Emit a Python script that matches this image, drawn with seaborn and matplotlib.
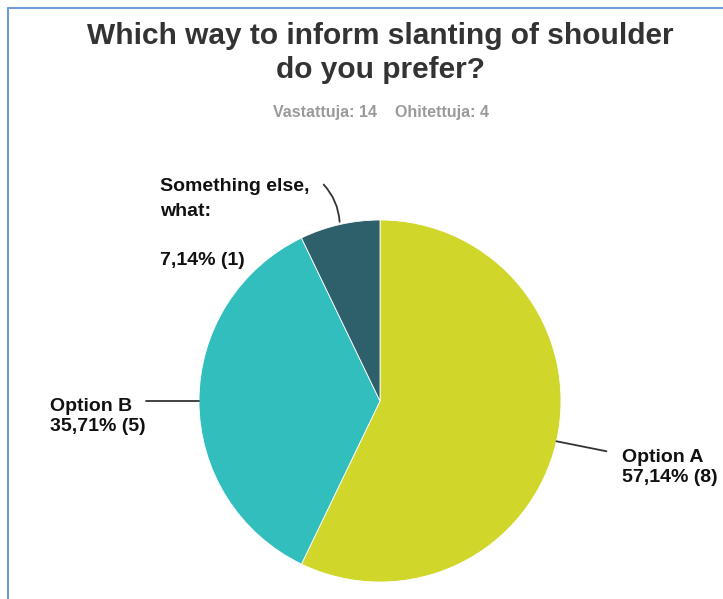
import numpy as np
import matplotlib
matplotlib.use("Agg")
import matplotlib.pyplot as plt
from matplotlib.lines import Line2D
import seaborn as sns

categories = ["Option A", "Option B", "Something else,\nwhat:"]
counts = [8, 5, 1]
percent_labels = ["57,14% (8)", "35,71% (5)", "7,14% (1)"]
colors = ["#D0D62A", "#33BEBE", "#2E606C"]
title = "Which way to inform slanting of shoulder\ndo you prefer?"
subtitle = "Vastattuja: 14    Ohitettuja: 4"

sns.set_theme(style="white")
plt.rcParams['font.family'] = ['Liberation Sans', 'DejaVu Sans']

W, H = 723, 599
fig = plt.figure(figsize=(W / 100, H / 100), dpi=100)
ax = fig.add_axes([0, 0, 1, 1])

cx, cy, r = 380, H - 401, 181
wedges, _ = ax.pie(counts, colors=colors, startangle=90, counterclock=False,
                   center=(cx, cy), radius=r, frame=True,
                   wedgeprops=dict(edgecolor='white', linewidth=0.6))
ax.set_xlim(0, W)
ax.set_ylim(0, H)
ax.set_aspect('equal')
ax.axis('off')

lab_font = dict(fontsize=14, fontweight='bold', color='#111111')

def edge_point(w):
    ang = np.deg2rad((w.theta1 + w.theta2) / 2)
    return cx + r * np.cos(ang), cy + r * np.sin(ang)

# Option A
x0, y0 = edge_point(wedges[0])
ax.plot([x0, x0 + 50], [y0, y0 - 10], color='#333333', lw=1.3)
ax.text(622, H - 449, categories[0] + "\n" + percent_labels[0], ha='left', va='top',
        linespacing=1.25, **lab_font)
# Option B
x1, y1 = edge_point(wedges[1])
ax.plot([x1, x1 - 53], [y1, y1], color='#333333', lw=1.3)
ax.text(50, H - 398, categories[1] + "\n" + percent_labels[1], ha='left', va='top',
        linespacing=1.25, **lab_font)
# Something else
x2, y2 = edge_point(wedges[2])
ax.annotate("", xy=(x2, y2), xytext=(x2 - 18, y2 + 42),
            arrowprops=dict(arrowstyle='-', color='#333333', lw=1.3,
                            connectionstyle='arc3,rad=-0.2'))
ax.text(160, H - 178, categories[2] + "\n\n" + percent_labels[2], ha='left', va='top',
        linespacing=1.6, **lab_font)

fig.text(380 / W, 1 - 53 / H, title, ha='center', va='center', fontsize=21.5,
         fontweight='bold', color='#333333', linespacing=1.3)
fig.text(381 / W, 1 - 113 / H, subtitle, ha='center', va='center', fontsize=11.5,
         fontweight='bold', color='#9A9A9A')

fig.add_artist(Line2D([8 / W, 8 / W], [0, 1 - 8 / H], color='#6F9AD3', lw=1.5,
                      transform=fig.transFigure))
fig.add_artist(Line2D([8 / W, 1], [1 - 8 / H, 1 - 8 / H], color='#6F9AD3', lw=1.5,
                      transform=fig.transFigure))

fig.savefig("out.png", dpi=100, facecolor='white')
